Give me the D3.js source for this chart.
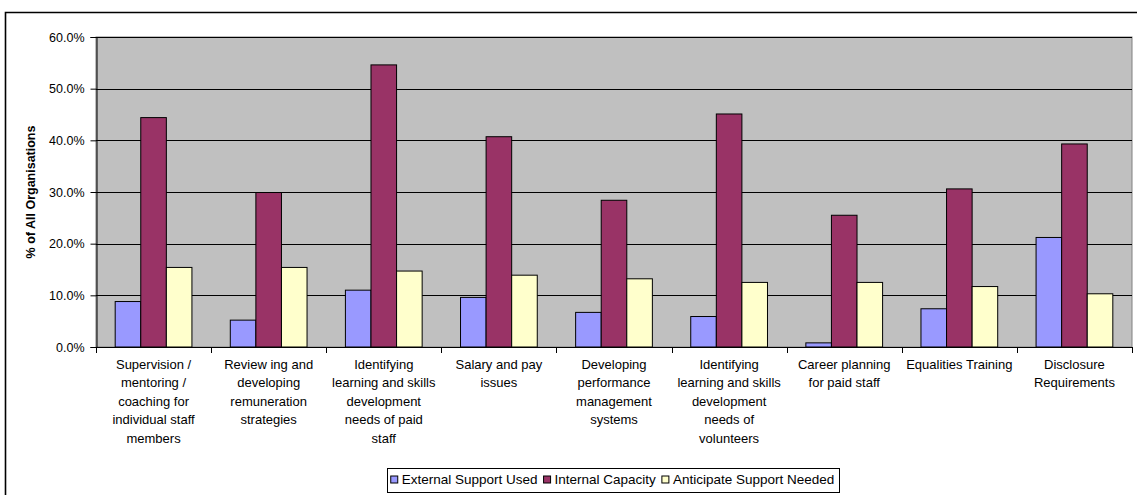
<!DOCTYPE html>
<html>
<head>
<meta charset="utf-8">
<script src="https://cdn.jsdelivr.net/npm/d3@7"></script>
<style>
  html, body { margin: 0; padding: 0; background: #fff; }
  svg { display: block; font-family: "Liberation Sans", Arial, sans-serif; }
</style>
</head>
<body>
<svg id="chart" width="1137" height="495"></svg>
<script>
// Category labels, pre-wrapped into lines
const categories = [
  ["Supervision /", "mentoring /", "coaching for", "individual staff", "members"],
  ["Review ing and", "developing", "remuneration", "strategies"],
  ["Identifying", "learning and skills", "development", "needs of paid", "staff"],
  ["Salary and pay", "issues"],
  ["Developing", "performance", "management", "systems"],
  ["Identifying", "learning and skills", "development", "needs of", "volunteers"],
  ["Career planning", "for paid staff"],
  ["Equalities Training"],
  ["Disclosure", "Requirements"]
];
const seriesNames = ["External Support Used", "Internal Capacity", "Anticipate Support Needed"];
const externalSupport = [0.088, 0.052, 0.110, 0.096, 0.067, 0.059, 0.008, 0.074, 0.212];
const internalCapacity = [0.444, 0.299, 0.546, 0.407, 0.284, 0.451, 0.255, 0.306, 0.393];
const anticipateSupport = [0.154, 0.154, 0.147, 0.139, 0.132, 0.125, 0.125, 0.117, 0.103];
const yTicks = [0, 0.1, 0.2, 0.3, 0.4, 0.5, 0.6];
const colors = ["#9999FF", "#993366", "#FFFFCC"];

const seriesValues = [externalSupport, internalCapacity, anticipateSupport];
const svg = d3.select("#chart");

// Outer chart frame
svg.append("path")
  .attr("d", "M5.5,495 L5.5,12.5 L1137,12.5")
  .attr("fill", "none").attr("stroke", "#000").attr("stroke-width", 1.6);

const plot = { left: 96, right: 1132, top: 37, bottom: 347 };
const catKeys = categories.map((c, i) => i);

const x0 = d3.scaleBand().domain(catKeys).range([plot.left, plot.right]).padding(0);
const x1 = d3.scaleBand().domain(d3.range(seriesNames.length))
  .range([0, x0.bandwidth()]).paddingInner(0).paddingOuter(0.75);
const y = d3.scaleLinear().domain([0, 0.6]).range([plot.bottom, plot.top]);

// Plot background
svg.append("rect")
  .attr("x", plot.left).attr("y", plot.top)
  .attr("width", plot.right - plot.left).attr("height", plot.bottom - plot.top)
  .attr("fill", "#C0C0C0").attr("stroke", "#808080").attr("stroke-width", 1);

// Gridlines
svg.append("g").selectAll("line")
  .data(yTicks.filter(d => d > 0))
  .join("line")
  .attr("x1", plot.left).attr("x2", plot.right)
  .attr("y1", d => Math.round(y(d)) + 0.5).attr("y2", d => Math.round(y(d)) + 0.5)
  .attr("stroke", "#000").attr("stroke-width", 1);

// Bars
const rows = catKeys.map(i => ({ cat: i, values: seriesValues.map(s => s[i]) }));
svg.append("g").selectAll("g")
  .data(rows)
  .join("g")
  .attr("transform", d => `translate(${x0(d.cat)},0)`)
  .selectAll("rect")
  .data(d => d.values.map((v, k) => ({ k, v })))
  .join("rect")
  .attr("x", d => x1(d.k))
  .attr("y", d => y(d.v))
  .attr("width", x1.bandwidth())
  .attr("height", d => y(0) - y(d.v))
  .attr("fill", d => colors[d.k])
  .attr("stroke", "#000").attr("stroke-width", 1);

// Y axis
const yAxis = d3.axisLeft(y).tickValues(yTicks).tickFormat(d3.format(".1%")).tickSize(6).tickPadding(6);
const yg = svg.append("g").attr("transform", `translate(${plot.left + 0.5},0)`).call(yAxis);
yg.select(".domain").attr("stroke", "#000");
yg.selectAll(".tick line").attr("stroke", "#000");
yg.selectAll(".tick text")
  .attr("font-size", "12.5px").attr("fill", "#000")
  .attr("font-family", "'Liberation Sans', Arial, sans-serif");

// X axis: tick marks at category boundaries
const xg = svg.append("g");
xg.append("line")
  .attr("x1", plot.left).attr("x2", plot.right)
  .attr("y1", plot.bottom + 0.5).attr("y2", plot.bottom + 0.5)
  .attr("stroke", "#000");
xg.selectAll("line.tk")
  .data(d3.range(categories.length + 1))
  .join("line").attr("class", "tk")
  .attr("x1", i => Math.round(plot.left + i * x0.step()) + 0.5)
  .attr("x2", i => Math.round(plot.left + i * x0.step()) + 0.5)
  .attr("y1", plot.bottom).attr("y2", plot.bottom + 6)
  .attr("stroke", "#000");

// Category labels
const labelG = svg.append("g")
  .attr("font-size", "13px").attr("text-anchor", "middle").attr("fill", "#000");
labelG.selectAll("text")
  .data(rows)
  .join("text")
  .attr("x", d => x0(d.cat) + x0.bandwidth() / 2)
  .attr("y", 369)
  .selectAll("tspan")
  .data(d => categories[d.cat].map((line, j) => ({ line, j, cx: x0(d.cat) + x0.bandwidth() / 2 })))
  .join("tspan")
  .attr("x", d => d.cx)
  .attr("dy", d => d.j === 0 ? 0 : 18.4)
  .text(d => d.line);

// Y axis title
svg.append("text")
  .attr("transform", `translate(35,${(plot.top + plot.bottom) / 2}) rotate(-90)`)
  .attr("text-anchor", "middle")
  .attr("font-size", "12.5px").attr("font-weight", "bold")
  .text("% of All Organisations");

// Legend
const legend = svg.append("g");
const legendBox = legend.append("rect")
  .attr("fill", "#fff").attr("stroke", "#000").attr("stroke-width", 1);
const items = legend.selectAll("g")
  .data(seriesNames)
  .join("g");
items.append("rect")
  .attr("width", 7).attr("height", 7)
  .attr("fill", (d, i) => colors[i]).attr("stroke", "#000").attr("stroke-width", 1);
items.append("text")
  .attr("font-size", "13.5px").attr("x", 11).attr("y", 8)
  .text(d => d);

let cursor = 0;
const legY = 480;
items.each(function () {
  const g = d3.select(this);
  const w = g.select("text").node().getComputedTextLength();
  g.attr("data-x", cursor);
  g.attr("data-w", 11 + w);
  cursor += 11 + w + 6;
});
const totalW = cursor - 6;
const padX = 4;
const legLeft = 612.5 - totalW / 2;
items.attr("transform", function () {
  return `translate(${legLeft + (+this.getAttribute("data-x"))},${legY - 4})`;
});
legendBox
  .attr("x", Math.round(legLeft - padX) + 0.5).attr("y", 468.5)
  .attr("width", Math.round(totalW + 2 * padX)).attr("height", 24);
</script>
</body>
</html>
